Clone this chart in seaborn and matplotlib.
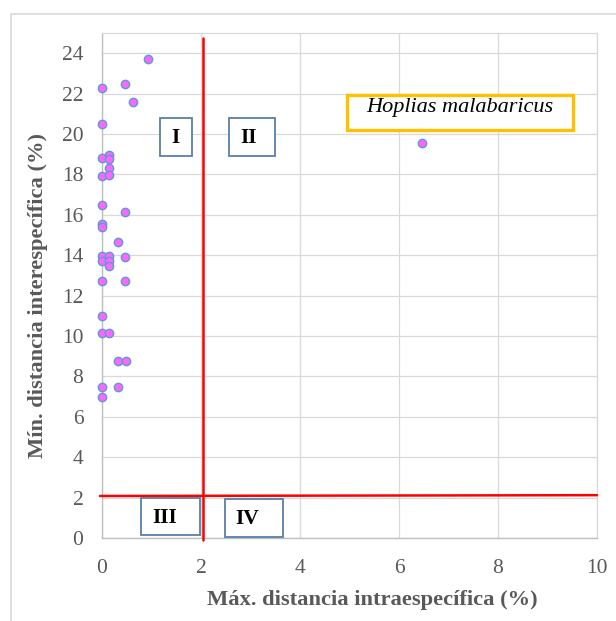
import matplotlib
matplotlib.use("Agg")
import matplotlib.pyplot as plt
import seaborn as sns
import pandas as pd
from matplotlib.patches import Rectangle

# Data
max_intra = [0.93, 0, 0.46, 0.62, 0, 0, 0.15, 0.15, 0.15, 0, 0.15, 0, 0.46, 0, 0,
             0.33, 0, 0.15, 0, 0.15, 0.15, 0.46, 0, 0.46, 0, 0, 0.15, 0.33, 0.48,
             0, 0.33, 0, 6.47]
min_inter = [23.7, 22.3, 22.5, 21.6, 20.5, 18.8, 18.95, 18.75, 18.3, 17.9, 17.97,
             16.5, 16.15, 15.55, 15.4, 14.65, 13.98, 13.98, 13.71, 13.71, 13.47,
             13.9, 12.72, 12.72, 11.0, 10.13, 10.13, 8.76, 8.76, 7.47, 7.47, 6.98,
             19.54]
x_ticks = [0, 2, 4, 6, 8, 10]
y_ticks = [0, 2, 4, 6, 8, 10, 12, 14, 16, 18, 20, 22, 24]
threshold_x = 2.05
threshold_y = 2.1
quadrant_labels = ["I", "II", "III", "IV"]
species_label = "Hoplias malabaricus"
x_label = "Máx. distancia intraespecífica (%)"
y_label = "Mín. distancia interespecífica (%)"

df = pd.DataFrame({"x": max_intra, "y": min_inter})

sns.set_style("white")
plt.rcParams["font.family"] = ["Liberation Serif", "DejaVu Serif"]

fig = plt.figure(figsize=(6.16, 6.21), dpi=100)
W, H = 616, 621
# chart outer frame
fig.patches.append(Rectangle((11 / W, -0.1), 1.2, 1 - 14 / H + 0.1, transform=fig.transFigure,
                             fill=False, edgecolor="#d9d9d9", linewidth=1.2))

ax = fig.add_axes([102 / W, 1 - 538 / H, (597 - 102) / W, (538 - 33) / H])
ax.set_xlim(0, 10)
ax.set_ylim(0, 25)
ax.set_xticks(x_ticks)
ax.set_yticks(y_ticks)
ax.grid(True, color="#d9d9d9", linewidth=0.9)
ax.set_axisbelow(True)
for side in ["top", "right"]:
    ax.spines[side].set_color("#d9d9d9")
    ax.spines[side].set_linewidth(0.9)
for side in ["left", "bottom"]:
    ax.spines[side].set_color("#bfbfbf")
    ax.spines[side].set_linewidth(1.0)
ax.tick_params(length=0, labelsize=15.5, labelcolor="#595959")
ax.tick_params(axis="x", pad=15)
ax.tick_params(axis="y", pad=13.5)

sns.scatterplot(data=df, x="x", y="y", ax=ax, s=36, color="#FF66FF",
                edgecolor="#5B9BD5", linewidth=1.0, zorder=3, clip_on=False, legend=False)
ax.set_xlabel("")
ax.set_ylabel("")

# threshold lines
ax.plot([threshold_x, threshold_x], [-0.1, 24.75], color="#FF0000", lw=1.8, clip_on=False, zorder=4)
ax.plot([-0.04, 10], [threshold_y - 0.02, threshold_y + 0.02], color="#FF0000", lw=1.8,
        clip_on=False, zorder=4)

# quadrant boxes
box_col = "#5A7FA8"
boxes = [(1.17, 18.91, 1.82, 20.81), (2.57, 18.91, 3.49, 20.81),
         (0.78, 0.13, 1.97, 1.97), (2.48, 0.05, 3.66, 1.93)]
text_pos = [(1.49, 19.8), (2.96, 19.8), (1.26, 0.99), (2.94, 0.95)]
for (x0, y0, x1, y1), (tx, ty), lab in zip(boxes, text_pos, quadrant_labels):
    ax.add_patch(Rectangle((x0, y0), x1 - x0, y1 - y0, facecolor="white",
                           edgecolor=box_col, linewidth=1.3, zorder=5))
    ax.text(tx, ty, lab, ha="center", va="center", fontsize=15.5, fontweight="bold",
            color="black", zorder=6)

ax.add_patch(Rectangle((4.94, 20.2), 9.52 - 4.94, 21.93 - 20.2, facecolor="white",
                       edgecolor="#FFC000", linewidth=2.4, zorder=5))
ax.text(7.22, 21.3, species_label, ha="center", va="center", fontsize=16,
        fontstyle="italic", color="black", zorder=6)

fig.text(372.5 / W, 1 - 600 / H, x_label, ha="center", va="center", fontsize=16.2,
         fontweight="bold", color="#595959")
fig.text(38 / W, 1 - 295 / H, y_label, ha="center", va="center", rotation=90,
         fontsize=16.2, fontweight="bold", color="#595959")

fig.savefig("out.png", dpi=100)
